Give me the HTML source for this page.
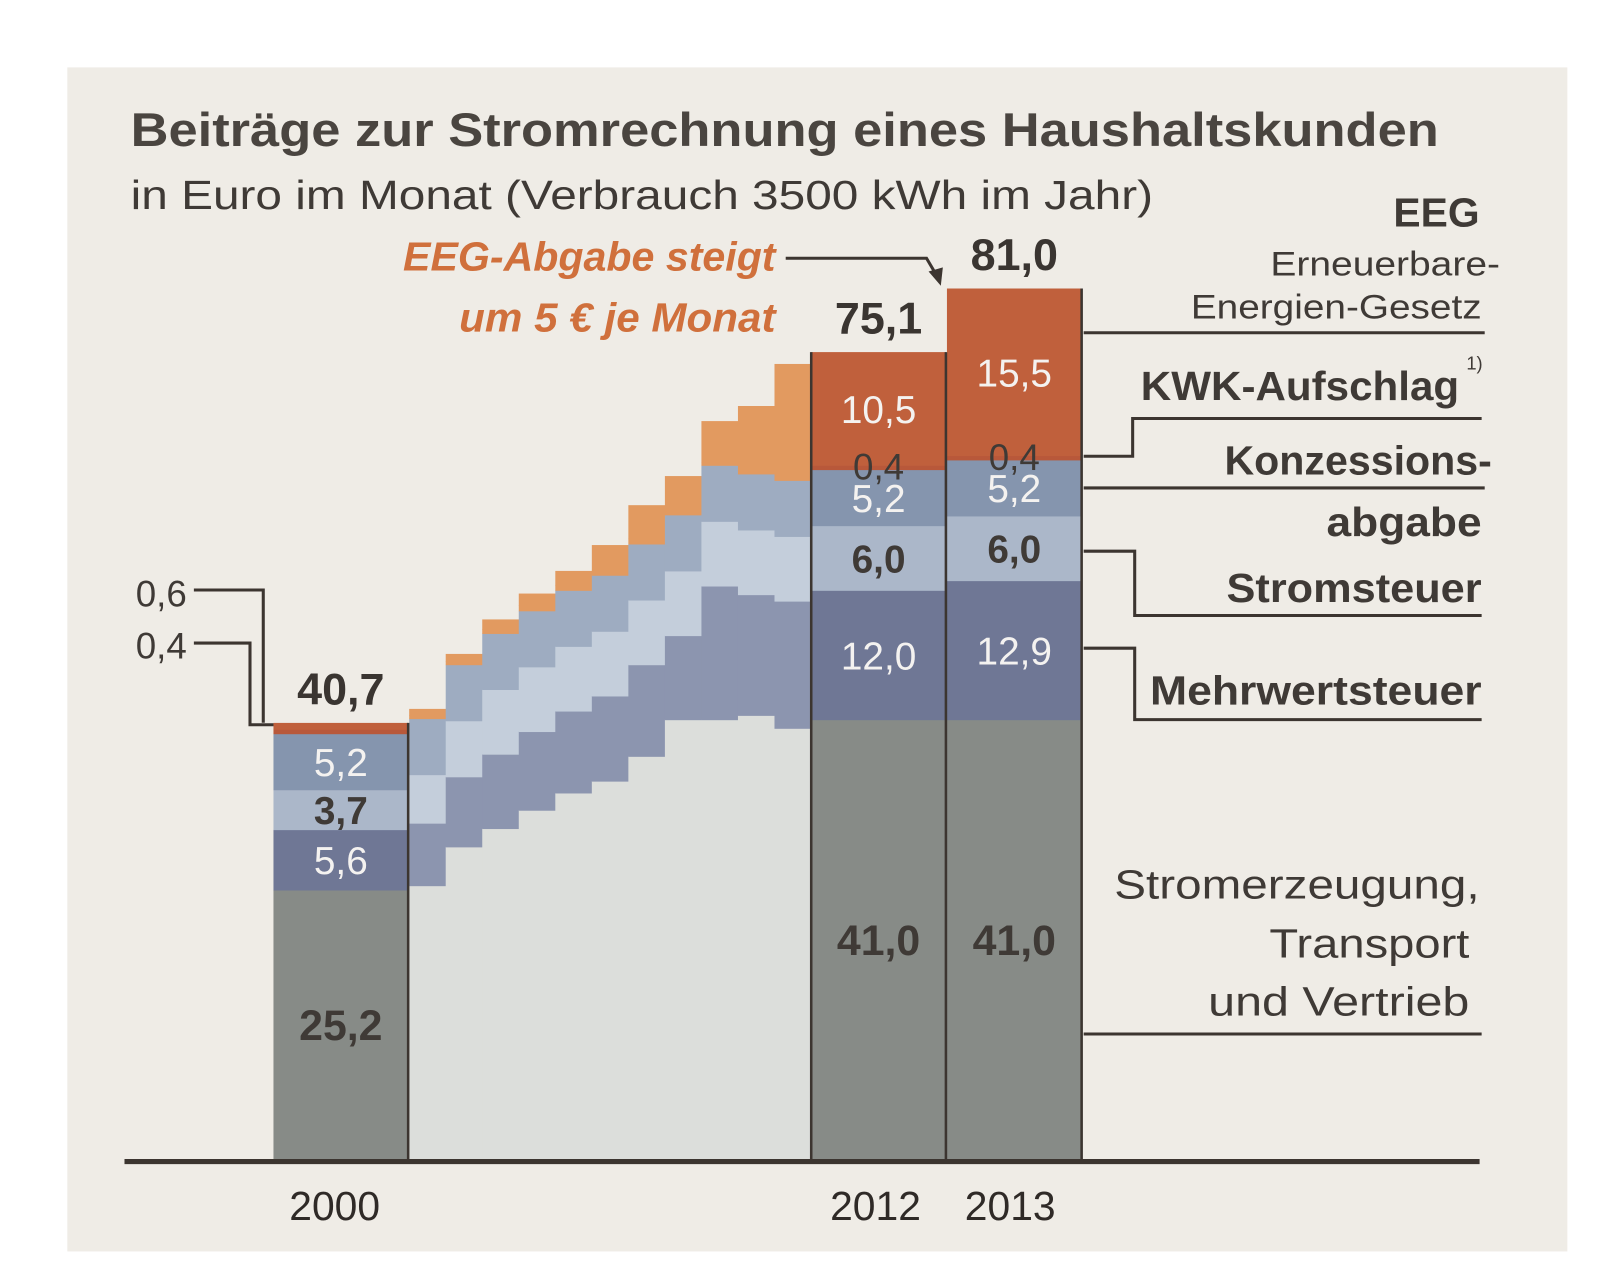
<!DOCTYPE html>
<html><head><meta charset="utf-8">
<style>
html,body{margin:0;padding:0;background:#fff;}
svg{display:block;}
text{font-family:"Liberation Sans",sans-serif;}
</style></head>
<body>
<svg id="chart" width="1600" height="1279" viewBox="0 0 1568 1253" preserveAspectRatio="none" xmlns="http://www.w3.org/2000/svg">
<rect x="0" y="0" width="1568" height="1253" fill="#ffffff"/>
<rect x="66" y="66" width="1470" height="1160" fill="#efece6"/>
<text x="128" y="143" font-size="46" font-weight="bold" fill="#4a4540" textLength="1282" lengthAdjust="spacingAndGlyphs">Beiträge zur Stromrechnung eines Haushaltskunden</text>
<text x="128" y="205" font-size="40" fill="#3f3a36" textLength="1002" lengthAdjust="spacingAndGlyphs">in Euro im Monat (Verbrauch 3500 kWh im Jahr)</text>
<text x="395" y="265" font-size="40" font-weight="bold" font-style="italic" fill="#d0703c" textLength="365" lengthAdjust="spacingAndGlyphs">EEG-Abgabe steigt</text>
<text x="450" y="325" font-size="40" font-weight="bold" font-style="italic" fill="#d0703c" textLength="310" lengthAdjust="spacingAndGlyphs">um 5 € je Monat</text>
<polyline points="770,253 908,253 918,270" fill="none" stroke="#3c3530" stroke-width="3"/>
<polygon points="910,266 924,262 922,280" fill="#3c3530"/>
<g id="bars"></g>
<g id="labels"></g>
<line x1="122" y1="1138" x2="1450" y2="1138" stroke="#3c3530" stroke-width="5"/>
<g fill="#3f3a36" stroke="none">
<text x="1450" y="222" font-size="40" font-weight="bold" text-anchor="end">EEG</text>
<text x="1470" y="270" font-size="34" text-anchor="end" textLength="225" lengthAdjust="spacingAndGlyphs">Erneuerbare-</text>
<text x="1452" y="312" font-size="34" text-anchor="end" textLength="285" lengthAdjust="spacingAndGlyphs">Energien-Gesetz</text>
<text x="1430" y="392" font-size="40" font-weight="bold" text-anchor="end" textLength="312" lengthAdjust="spacingAndGlyphs">KWK-Aufschlag</text>
<text x="1437" y="362" font-size="18">1)</text>
<text x="1462" y="465" font-size="40" font-weight="bold" text-anchor="end" textLength="262" lengthAdjust="spacingAndGlyphs">Konzessions-</text>
<text x="1452" y="525" font-size="40" font-weight="bold" text-anchor="end" textLength="152" lengthAdjust="spacingAndGlyphs">abgabe</text>
<text x="1452" y="590" font-size="40" font-weight="bold" text-anchor="end" textLength="250" lengthAdjust="spacingAndGlyphs">Stromsteuer</text>
<text x="1452" y="690" font-size="40" font-weight="bold" text-anchor="end" textLength="325" lengthAdjust="spacingAndGlyphs">Mehrwertsteuer</text>
<text x="1450" y="880" font-size="40" text-anchor="end" textLength="358" lengthAdjust="spacingAndGlyphs">Stromerzeugung,</text>
<text x="1440" y="938" font-size="40" text-anchor="end" textLength="196" lengthAdjust="spacingAndGlyphs">Transport</text>
<text x="1440" y="995" font-size="40" text-anchor="end" textLength="256" lengthAdjust="spacingAndGlyphs">und Vertrieb</text>
</g>
<g fill="none" stroke="#3c3530" stroke-width="3">
<polyline points="1062,326 1455,326"/>
<polyline points="1062,447 1110,447 1110,410 1452,410"/>
<polyline points="1062,478 1455,478"/>
<polyline points="1062,540 1112,540 1112,603 1452,603"/>
<polyline points="1062,635 1112,635 1112,705 1452,705"/>
<polyline points="1062,1013 1452,1013"/>
<polyline points="190,578 258,578 258,708"/>
<polyline points="190,630 245,630 245,710 268,710"/>
</g>
<text x="133" y="594" font-size="36" fill="#3f3a36">0,6</text>
<text x="133" y="645" font-size="36" fill="#3f3a36">0,4</text>
</svg>
<script>
const years = ["2000","2001","2002","2003","2004","2005","2006","2007","2008","2009","2010","2011","2012","2013"];
const generation = [25.2,25.6,29.2,30.9,32.6,34.2,35.3,37.6,41.0,41.0,41.4,40.2,41.0,41.0];
const vat        = [5.6,5.8,6.5,6.9,7.3,7.6,7.9,8.5,7.8,12.4,11.2,11.8,12.0,12.9];
const elecTax    = [3.7,4.5,5.2,6.0,6.0,6.0,6.0,6.0,6.0,6.0,6.0,6.0,6.0,6.0];
const concession = [5.2,5.2,5.2,5.2,5.2,5.2,5.2,5.2,5.2,5.2,5.2,5.2,5.2,5.2];
const kwk        = [0.4,0.3,0.3,0.4,0.5,0.5,0.5,0.5,0.4,0.3,0.4,0.4,0.4,0.4];
const eeg        = [0.6,0.6,0.7,0.9,1.1,1.3,2.3,3.1,3.2,3.8,5.9,10.4,10.5,15.5];
const totals     = ["40,7","","","","","","","","","","","","75,1","81,0"];
const NS='http://www.w3.org/2000/svg';
const base=1138, pxPerEuro=10.56;
function yScale(v){return base - v*pxPerEuro;}
function xLeft(i){ if(i===0) return 268; if(i===12) return 795; if(i===13) return 928; return 401+(i-1)*35.8; }
function xWidth(i){ if(i===0) return 132; if(i>=12) return 132; return 35.8; }
const mainCol=["#878b87","#6f7795","#abb7c9","#8595ae","#b8583a","#c0603c"];
const midCol =["#dcdedb","#8c95af","#c4cedb","#9eacc1","#e29a60","#e29a60"];
const names=["generation","vat","electricity-tax","concession","kwk","eeg"];
const series=[generation,vat,elecTax,concession,kwk,eeg];
const g=document.getElementById('bars');
for(let i=0;i<years.length;i++){
  let cum=0;
  const main=(i===0||i>=12);
  for(let s=0;s<series.length;s++){
    const v=series[s][i];
    const r=document.createElementNS(NS,'rect');
    
    
    r.setAttribute('x',xLeft(i));
    r.setAttribute('width',xWidth(i)+(main?0:0.6));
    r.setAttribute('y',yScale(cum+v));
    r.setAttribute('height',v*pxPerEuro+0.5);
    r.setAttribute('fill',(main?mainCol:midCol)[s]);
    g.appendChild(r);
    cum+=v;
  }
}
function vline(x,y1){const l=document.createElementNS(NS,'line');


l.setAttribute('x1',x);l.setAttribute('x2',x);l.setAttribute('y1',y1);l.setAttribute('y2',base);
l.setAttribute('stroke','#3c3530');l.setAttribute('stroke-width','2.5');g.appendChild(l);}
function totalOf(i){let t=0;for(const s of series)t+=s[i];return t;}
vline(400,yScale(totalOf(0)));
vline(795,yScale(totalOf(12)));
vline(927,yScale(totalOf(12)));
vline(1060,yScale(totalOf(13)));
const L=document.getElementById('labels');
function txt(name,x,y,s,fill,bold,str){const t=document.createElementNS(NS,'text');


t.setAttribute('x',x);t.setAttribute('y',y);t.setAttribute('font-size',s);t.setAttribute('fill',fill);
t.setAttribute('text-anchor','middle');if(bold)t.setAttribute('font-weight','bold');t.textContent=str;L.appendChild(t);}
function fmt(v){return v.toFixed(1).replace('.',',');}
const idx=[0,12,13];
for(const i of idx){
  const cx=xLeft(i)+66;
  let cum=0;
  for(let s=0;s<series.length;s++){
    const v=series[s][i];
    const mid=yScale(cum+v/2);
    cum+=v;
    if(i===0 && s>=4) continue;
    if(i!==0 && s===4){ txt('value-'+years[i]+'-kwk',cx,yScale(cum)+14,36,'#3f3a36',false,fmt(v)); continue; }
    const dark=(s===0||s===2);
    txt('value-'+years[i]+'-'+names[s],cx,mid+14,s===0?42:38,dark?'#3f3a36':'#f4f2f0',dark,fmt(v));
  }
  txt('total-'+years[i],cx,yScale(totalOf(i))-18,44,'#3a3531',true,totals[i]);
  txt('x-label-'+years[i],i===13?990:(i===12?858:328),1195,40,'#2f2a27',false,years[i]);
}
</script>
</body></html>
